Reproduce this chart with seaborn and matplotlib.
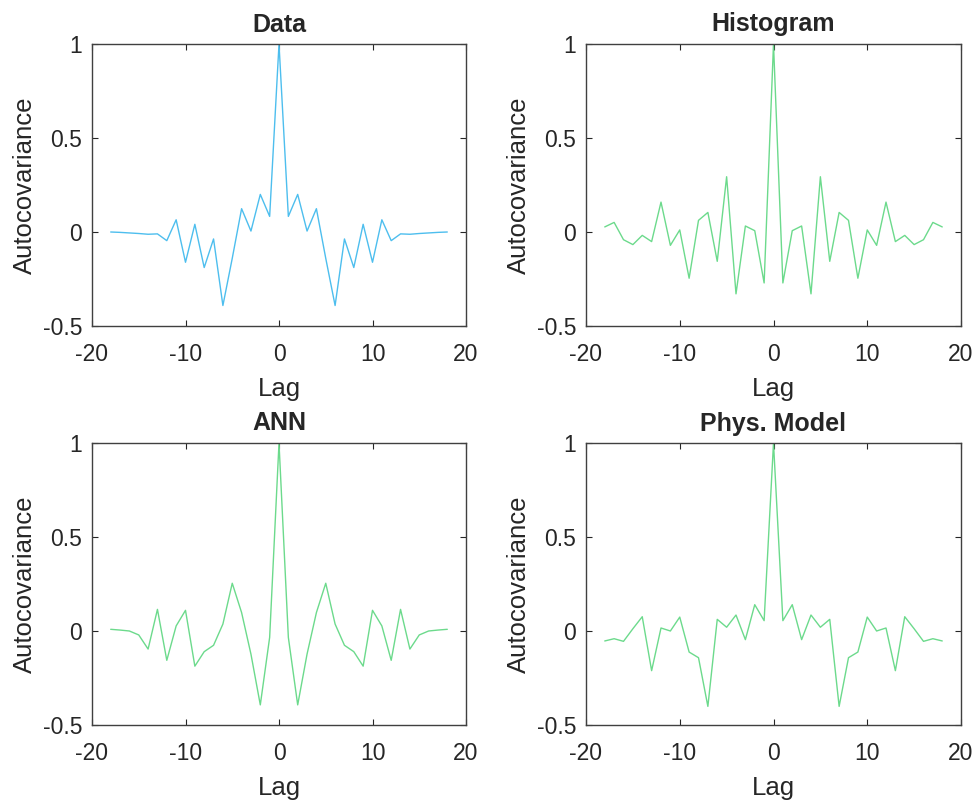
import numpy as np
import pandas as pd
import matplotlib
matplotlib.use("Agg")
import matplotlib.pyplot as plt
import seaborn as sns

lags = list(range(-18, 19))

data_half = [0.0, -0.002, -0.005, -0.008, -0.012, -0.01, -0.046, 0.065, -0.161,
             0.041, -0.189, -0.037, -0.391, -0.14, 0.124, 0.005, 0.2, 0.083]
hist_half = [0.027, 0.051, -0.041, -0.067, -0.018, -0.051, 0.159, -0.071, 0.011,
             -0.246, 0.062, 0.104, -0.156, 0.294, -0.329, 0.032, 0.007, -0.271]
ann_half = [0.009, 0.005, 0.0, -0.021, -0.096, 0.115, -0.156, 0.027, 0.110,
            -0.187, -0.110, -0.076, 0.037, 0.254, 0.098, -0.123, -0.393, -0.034]
phys_half = [-0.053, -0.041, -0.055, 0.012, 0.076, -0.211, 0.016, 0.0, 0.074,
             -0.112, -0.142, -0.401, 0.062, 0.020, 0.085, -0.046, 0.140, 0.055]

data_vals = data_half + [1.0] + data_half[::-1]
hist_vals = hist_half + [1.0] + hist_half[::-1]
ann_vals = ann_half + [1.0] + ann_half[::-1]
phys_vals = phys_half + [1.0] + phys_half[::-1]

titles = ["Data", "Histogram", "ANN", "Phys. Model"]
series = [data_vals, hist_vals, ann_vals, phys_vals]
colors = ["#4DBEEE", "#6CDA8C", "#6CDA8C", "#6CDA8C"]

xticks = [-20, -10, 0, 10, 20]
yticks = [-0.5, 0, 0.5, 1]
yticklabels = ["-0.5", "0", "0.5", "1"]

sns.set_theme(style="white")
plt.rcParams["font.family"] = ["Liberation Sans", "DejaVu Sans"]
plt.rcParams["axes.unicode_minus"] = False

fig = plt.figure(figsize=(9.79, 8.0), dpi=100)
W, H = 979, 800
boxes = [(92, 44, 466, 326), (586, 44, 961, 326),
         (92, 443, 466, 725), (586, 443, 961, 725)]

for (l, t, r, b), title, vals, col in zip(boxes, titles, series, colors):
    ax = fig.add_axes([l / W, 1 - b / H, (r - l) / W, (b - t) / H])
    df = pd.DataFrame({"Lag": lags, "Autocovariance": vals})
    sns.lineplot(data=df, x="Lag", y="Autocovariance", color=col, linewidth=1.0, ax=ax)
    ax.set_xlim(-20, 20)
    ax.set_ylim(-0.5, 1)
    ax.set_xticks(xticks)
    ax.set_xticklabels([str(v) for v in xticks])
    ax.set_yticks(yticks)
    ax.set_yticklabels(yticklabels)
    ax.tick_params(direction="in", length=4, width=0.8, color="#262626",
                   labelsize=16.5, labelcolor="#262626", top=True, right=True,
                   bottom=True, left=True)
    ax.tick_params(axis="x", pad=12)
    ax.tick_params(axis="y", pad=7)
    for s in ax.spines.values():
        s.set_color("#404040")
        s.set_linewidth(1.0)
    ax.set_title(title, fontsize=18, fontweight="bold", pad=9)
    ax.set_xlabel("Lag", fontsize=18.5, color="#262626", labelpad=8)
    ax.set_ylabel("Autocovariance", fontsize=18.5, color="#262626", labelpad=4)

fig.savefig("out.png", dpi=100)
